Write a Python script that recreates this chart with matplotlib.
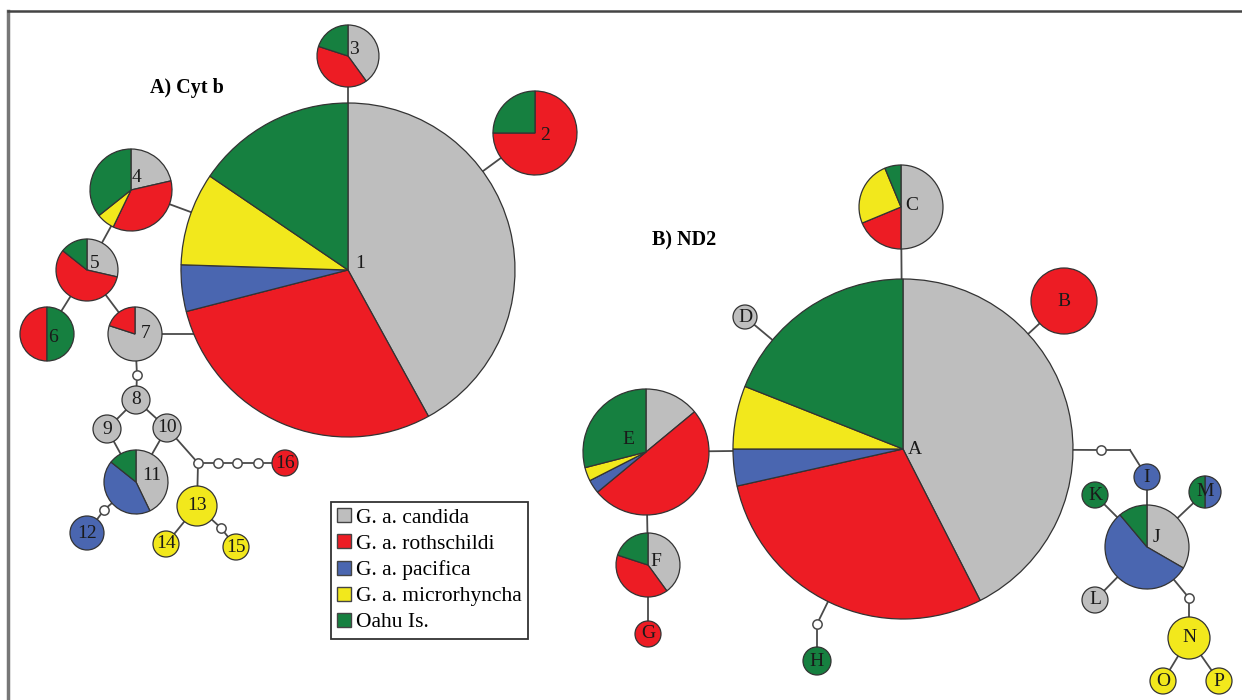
import matplotlib.pyplot as plt
from matplotlib.patches import Patch

plt.rcParams['font.family'] = ['Liberation Serif', 'DejaVu Serif']

W, H = 1242, 700

# populations (legend order) and their colours
groups = ['G. a. candida', 'G. a. rothschildi', 'G. a. pacifica',
          'G. a. microrhyncha', 'Oahu Is.']
colors = ['#bebebe', '#ed1c24', '#4a66b0', '#f2e81c', '#168040']

#%% Haplotype counts
# A) Cyt b
cyt_names = ['1', '2', '3', '4', '5', '6', '7', '8', '9', '10',
             '11', '12', '13', '14', '15', '16']
cyt_candida      = [42,   0, 2, 3, 2, 0, 4, 1, 1, 1, 3, 0, 0, 0, 0, 0]
cyt_rothschildi  = [29,   3, 2, 5, 4, 1, 1, 0, 0, 0, 0, 0, 0, 0, 0, 1]
cyt_pacifica     = [4.5,  0, 0, 0, 0, 0, 0, 0, 0, 0, 3, 1, 0, 0, 0, 0]
cyt_microrhyncha = [9,    0, 0, 1, 0, 0, 0, 0, 0, 0, 0, 0, 1, 1, 1, 0]
cyt_oahu         = [15.5, 1, 1, 5, 1, 1, 0, 0, 0, 0, 1, 0, 0, 0, 0, 0]

# B) ND2
nd2_names = ['A', 'B', 'C', 'D', 'E', 'F', 'G', 'H',
             'I', 'J', 'K', 'L', 'M', 'N', 'O', 'P']
nd2_candida      = [42.5, 0, 8, 1, 14,  2, 0, 0, 0, 3, 0, 1, 0, 0, 0, 0]
nd2_rothschildi  = [29,   1, 3, 0, 50,  2, 1, 0, 0, 0, 0, 0, 0, 0, 0, 0]
nd2_pacifica     = [3.5,  0, 0, 0, 3.5, 0, 0, 0, 1, 5, 0, 0, 1, 0, 0, 0]
nd2_microrhyncha = [6,    0, 4, 0, 3.5, 0, 0, 0, 0, 0, 0, 0, 0, 1, 1, 1]
nd2_oahu         = [19,   0, 1, 0, 29,  1, 0, 1, 0, 1, 1, 0, 1, 0, 0, 0]

#%% Network layout (pixel positions, radius)
cyt_pos = {'1': (348, 270, 167), '2': (535, 133, 42), '3': (348, 56, 31),
           '4': (131, 190, 41), '5': (87, 270, 31), '6': (47, 334, 27),
           '7': (135, 334, 27), '8': (136, 400, 14), '9': (107, 429, 14),
           '10': (167, 428, 14), '11': (136, 482, 32), '12': (87, 533, 17),
           '13': (197, 506, 20), '14': (166, 544, 13), '15': (236, 547, 13),
           '16': (285, 463, 13)}
nd2_pos = {'A': (903, 449, 170), 'B': (1064, 301, 33), 'C': (901, 207, 42),
           'D': (745, 317, 12), 'E': (646, 452, 63), 'F': (648, 565, 32),
           'G': (648, 634, 13), 'H': (817, 661, 14), 'I': (1147, 477, 13),
           'J': (1147, 547, 42), 'K': (1095, 495, 13), 'L': (1095, 600, 13),
           'M': (1205, 492, 16), 'N': (1189, 638, 21), 'O': (1163, 681, 13),
           'P': (1219, 681, 13)}
# start angle (screen, clockwise) when not from the top
start_ang = {'6': 270}
# label offsets from the node centre
lab_off = {'1': (12, -7), '2': (10, 2), '3': (6, -6), '4': (6, -12),
           '5': (8, -7), '6': (6, 3), '7': (11, -1), '11': (16, -6),
           'A': (12, 0), 'C': (11, -1), 'E': (-18, -12), 'F': (8, -4),
           'J': (9, -10)}

# unsampled (white) nodes and plain bends
white = {'w1': (137, 375), 'j1': (198, 463), 'w2': (218, 463), 'w3': (237, 463),
         'w4': (258, 463), 'w5': (221, 528), 'w6': (104, 510),
         'h1': (817, 624), 'i1': (1101, 450), 'n1': (1189, 598)}
bends = {'a1': (348, 334), 'i2': (1130, 450)}

edges = [('1', '3'), ('1', '2'), ('1', '4'), ('4', '5'), ('5', '6'), ('5', '7'),
         ('7', 'a1'), ('7', 'w1'), ('w1', '8'), ('8', '9'), ('8', '10'),
         ('9', '11'), ('10', '11'), ('10', 'j1'), ('j1', '13'), ('j1', 'w2'),
         ('w2', 'w3'), ('w3', 'w4'), ('w4', '16'), ('13', '14'), ('13', 'w5'),
         ('w5', '15'), ('11', 'w6'), ('w6', '12'),
         ('A', 'C'), ('A', 'B'), ('A', 'D'), ('A', 'E'), ('E', 'F'), ('F', 'G'),
         ('A', 'h1'), ('h1', 'H'), ('A', 'i1'), ('i1', 'i2'), ('i2', 'I'),
         ('I', 'J'), ('J', 'K'), ('J', 'M'), ('J', 'L'), ('J', 'n1'),
         ('n1', 'N'), ('N', 'O'), ('N', 'P')]

pos = {}
for d in (cyt_pos, nd2_pos):
    for k, v in d.items():
        pos[k] = v[:2]
pos.update(white)
pos.update(bends)

fig = plt.figure(figsize=(W / 100, H / 100), dpi=100)
ax = fig.add_axes([0, 0, 1, 1])

# edges
for a, b in edges:
    ax.plot([pos[a][0], pos[b][0]], [pos[a][1], pos[b][1]],
            color='#4a4a4a', lw=1.3, zorder=1)

# haplotype pies
def draw_net(names, layout, table):
    for i, n in enumerate(names):
        x, y, r = layout[n]
        vals = [col[i] for col in table]
        keep = [(v, c) for v, c in zip(vals, colors) if v > 0]
        # y axis is inverted: counterclock in data = clockwise on screen
        ax.pie([v for v, c in keep], colors=[c for v, c in keep],
               center=(x, y), radius=r, startangle=-start_ang.get(n, 90),
               counterclock=True, frame=True,
               wedgeprops=dict(edgecolor='#333333', linewidth=0.9, zorder=3))
        dx, dy = lab_off.get(n, (0, 0))
        ax.text(x + dx, y + dy, n, ha='center', va='center', fontsize=14,
                color='#1a1a1a', zorder=5)

draw_net(cyt_names, cyt_pos, [cyt_candida, cyt_rothschildi, cyt_pacifica,
                              cyt_microrhyncha, cyt_oahu])
draw_net(nd2_names, nd2_pos, [nd2_candida, nd2_rothschildi, nd2_pacifica,
                              nd2_microrhyncha, nd2_oahu])

# missing intermediate haplotypes
ax.scatter([p[0] for p in white.values()], [p[1] for p in white.values()],
           s=45, facecolor='white', edgecolor='#4a4a4a', linewidth=1.1, zorder=4)

ax.text(150, 88, 'A) Cyt b', fontsize=14.5, fontweight='bold', va='center')
ax.text(652, 240, 'B) ND2', fontsize=14.5, fontweight='bold', va='center')

# figure frame (runs off the right and bottom)
ax.plot([8, 8], [H, 11], color='#777777', lw=2.5, zorder=6, clip_on=False)
ax.plot([8, W], [11, 11], color='#444444', lw=1.8, zorder=6, clip_on=False)

handles = [Patch(facecolor=c, edgecolor='#444444') for c in colors]
leg = ax.legend(handles, groups, loc='upper left',
                bbox_to_anchor=(331 / W, 1 - 502 / H), borderaxespad=0,
                fontsize=15.5, fancybox=False, edgecolor='#333333', framealpha=1,
                handlelength=0.62, handleheight=0.62, handletextpad=0.25,
                labelspacing=0.3, borderpad=0.3)
leg.get_frame().set_linewidth(1.3)

ax.set_xlim(0, W)
ax.set_ylim(H, 0)
ax.set_aspect('equal')
ax.axis('off')

plt.savefig('out.png', dpi=100)
